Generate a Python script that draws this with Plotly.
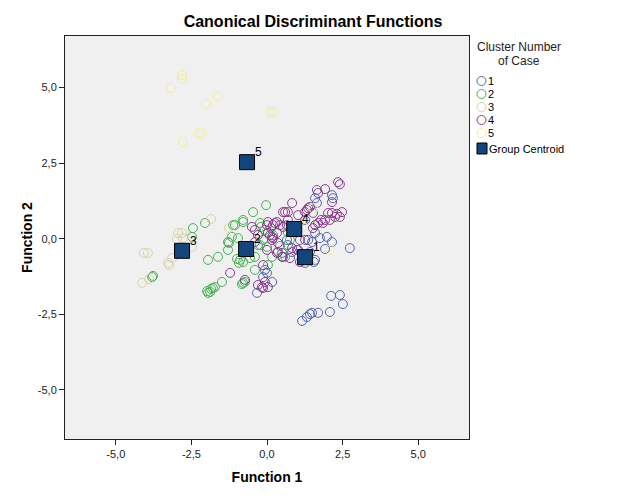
import plotly.graph_objects as go

# ---------------- data (Function 1, Function 2 scores) ----------------
c1_x = [2.12, 2.41, 2.51, 2.08, 1.69, 1.49, 1.42, 1.32, 1.16, 0.00, -0.13, 0.17, -0.33,
        1.55, 1.26, 2.74, 1.92, 2.15, 1.98, 1.59, 1.36, 1.49, 1.59, 1.32, 1.65, 1.59,
        2.18, 2.15, 1.26, 1.52, 0.69, 0.83, 0.53, 0.66, 1.75, 1.09, 1.42, 0.50, -0.07, 1.65]
c1_y = [-1.89, -1.86, -2.16, -2.42, -2.45, -2.45, -2.49, -2.59, -2.72, -1.13, -1.27, -1.43, -1.79,
        -0.77, -0.80, -0.31, -0.34, -0.11, 0.06, 0.19, -0.04, -0.11, -0.70, -0.64, 1.18, 1.34,
        1.34, 1.44, 0.62, 0.85, -0.21, -0.44, -0.60, -0.04, 0.02, -0.04, -0.44, -0.47, -1.03, 1.61]

c2_x = [-2.45, -2.05, -2.48, -1.95, -1.62, -1.29, -1.26, -1.16, -1.12, -1.49, -1.72, -1.85, -1.95,
        -3.77, -3.80, -0.46, -0.03, -0.79, -0.79, -1.06, -0.96, -0.99, -0.93, -0.56, -0.40, -0.79,
        -0.73, -1.88, -0.40, 0.03, -0.23, -0.07, 0.13, -0.13, 0.00, -0.23, 0.17, 0.60, 0.76, -1.29,
        -0.89, -0.30, -0.83, -0.20, 0.20, -1.79, -1.98, -0.79, 0.43, 0.69]
c2_y = [0.35, 0.52, 0.06, -0.70, -0.60, -0.37, -0.14, 0.06, 0.45, -1.43, -1.60, -1.66, -1.79,
        -1.23, -1.27, 0.88, 1.11, 0.62, 0.55, 0.45, 0.02, -0.67, -0.80, -0.64, -0.60, -1.46,
        -1.43, -1.76, -1.03, -0.87, 0.52, 0.29, 0.35, -0.04, -0.27, -0.21, -0.60, -0.60, -0.04, -0.11,
        -0.70, -0.21, -1.50, 0.39, 0.12, -1.63, -1.73, -0.77, -0.24, 0.22]

c3_x = [-4.07, -3.94, -2.94, -2.81, -2.98, -2.78, -2.48, -3.14, -3.27, -3.24, -4.13, -3.90, -1.85, -1.26]
c3_y = [-0.47, -0.47, 0.19, 0.19, -0.01, 0.02, -0.27, -0.64, -0.80, -0.87, -1.46, -1.33, 0.65, 0.35]

c4_x = [2.35, 2.41, 1.92, 1.69, 2.15, 2.48, 2.41, 2.31, 2.25, 2.02, 1.92, 1.79, 1.85, 1.69, 1.59,
        1.52, 1.26, 1.32, 1.36, 1.42, 1.03, 0.83, 0.69, 0.83, 1.03, 1.26, 1.09, 0.76, 0.53, 0.33,
        0.03, 0.00, 0.20, 0.43, 0.53, 0.66, -0.40, 0.10, 0.20, 0.17, 0.33, 0.03, 0.00, 0.36, 0.50,
        0.99, 2.08, 2.15, -1.22, -0.73, -0.13, -0.17, -0.07, 0.03, -0.50, -0.40, -0.30, 0.26, 0.17,
        0.36, 0.69, 0.60, 0.33, -0.30, -0.13]
c4_y = [1.87, 1.80, 1.64, 1.51, 1.21, 0.88, 0.72, 0.82, 0.72, 0.85, 0.62, 0.62, 0.52, 0.52, 0.45,
        0.35, 0.88, 0.95, 1.01, 1.05, 0.78, 1.18, 0.88, -0.31, -0.37, -0.04, -0.77, -0.64, 0.88, 0.55,
        0.55, 0.45, 0.45, 0.45, 0.39, 0.45, 0.29, 0.12, 0.02, -0.04, 0.19, 0.19, -0.37, -0.44, -0.60,
        -0.37, 0.62, 0.85, -1.13, -1.36, -0.87, -1.60, -1.43, -1.60, 0.39, -0.11, 0.12, 0.52, 0.06,
        -0.14, 0.62, 0.88, -0.47, -1.53, -1.63]

c5_x = [-2.81, -2.81, -3.17, -2.02, -1.65, -2.25, -2.15, -2.78, 0.20, 0.10, 1.52, 2.08, 1.19]
c5_y = [5.41, 5.28, 4.98, 4.45, 4.71, 3.49, 3.46, 3.19, 4.19, 4.19, 1.01, -0.37, 0.39]

centroid_labels = ["1", "2", "3", "4", "5"]
centroid_x = [1.26, -0.69, -2.81, 0.90, -0.66]
centroid_y = [-0.61, -0.34, -0.40, 0.32, 2.53]

x_ticks = [-5.0, -2.5, 0.0, 2.5, 5.0]
x_tick_text = ["-5,0", "-2,5", "0,0", "2,5", "5,0"]
y_ticks = [-5.0, -2.5, 0.0, 2.5, 5.0]
y_tick_text = ["-5,0", "-2,5", "0,0", "2,5", "5,0"]

clusters = [
    ("1", c1_x, c1_y, "#5565AE"),
    ("2", c2_x, c2_y, "#45B252"),
    ("3", c3_x, c3_y, "#DAD3A8"),
    ("4", c4_x, c4_y, "#8C3A91"),
    ("5", c5_x, c5_y, "#F4EE98"),
]
centroid_color = "#13457C"

# ---------------- layout geometry ----------------
W, H = 626, 501
L, R, T, B = 65, 469, 36, 439
FONT = "Liberation Sans, Arial, sans-serif"


def px_x(p):
    return (p - L) / (R - L)


def px_y(p):
    return (B - p) / (B - T)


fig = go.Figure()

for name, xs, ys, col in clusters:
    fig.add_trace(go.Scatter(
        x=xs, y=ys, mode="markers", name=name, showlegend=False,
        marker=dict(symbol="circle-open", size=9, color=col, line=dict(width=1, color=col)),
    ))

fig.add_trace(go.Scatter(
    x=centroid_x, y=centroid_y, mode="markers", name="Group Centroid", showlegend=False,
    marker=dict(symbol="square", size=15, color=centroid_color, line=dict(width=1, color="black")),
))

annotations = []
for lab, cx, cy in zip(centroid_labels, centroid_x, centroid_y):
    annotations.append(dict(x=cx, y=cy, xref="x", yref="y", text=lab, showarrow=False,
                            xanchor="left", yanchor="middle", xshift=6, yshift=10,
                            font=dict(family=FONT, size=12, color="black")))

# manual legend
annotations.append(dict(x=px_x(519), y=px_y(47), xref="paper", yref="paper",
                        text="Cluster Number", showarrow=False, xanchor="center", yanchor="middle",
                        font=dict(family=FONT, size=12, color="#222")))
annotations.append(dict(x=px_x(519), y=px_y(61), xref="paper", yref="paper",
                        text="of Case", showarrow=False, xanchor="center", yanchor="middle",
                        font=dict(family=FONT, size=12, color="#222")))

shapes = []
item_y = [81, 94, 107, 120, 133]
for (name, xs, ys, col), iy in zip(clusters, item_y):
    shapes.append(dict(type="circle", xref="paper", yref="paper",
                       x0=px_x(477), x1=px_x(486), y0=px_y(iy + 4.5), y1=px_y(iy - 4.5),
                       line=dict(color=col, width=1), fillcolor="rgba(0,0,0,0)"))
    annotations.append(dict(x=px_x(486), y=px_y(iy), xref="paper", yref="paper", text=name,
                            showarrow=False, xanchor="left", yanchor="middle",
                            font=dict(family=FONT, size=11, color="black")))

shapes.append(dict(type="rect", xref="paper", yref="paper",
                   x0=px_x(477), x1=px_x(487), y0=px_y(154), y1=px_y(143),
                   fillcolor=centroid_color, line=dict(color="black", width=1)))
annotations.append(dict(x=px_x(487), y=px_y(148.5), xref="paper", yref="paper", text="Group Centroid",
                        showarrow=False, xanchor="left", yanchor="middle",
                        font=dict(family=FONT, size=11, color="black")))

axis_common = dict(showgrid=False, zeroline=False, showline=True, linecolor="#222", linewidth=1,
                   mirror=True, ticks="outside", ticklen=5, tickcolor="#222",
                   tickfont=dict(family=FONT, size=11, color="#222"))

fig.update_layout(
    width=W, height=H,
    margin=dict(l=L, r=W - R, t=T, b=H - B),
    paper_bgcolor="white", plot_bgcolor="#F0F0F0",
    title=dict(text="<b>Canonical Discriminant Functions</b>", x=0.5, xref="container",
               y=1 - 21 / H, yref="container", xanchor="center", yanchor="middle",
               font=dict(family=FONT, size=16, color="black")),
    xaxis=dict(range=[-6.68, 6.68], tickvals=x_ticks, ticktext=x_tick_text,
               title=dict(text="<b>Function 1</b>", standoff=12,
                          font=dict(family=FONT, size=14, color="black")),
               **axis_common),
    yaxis=dict(range=[-6.62, 6.70], tickvals=y_ticks, ticktext=y_tick_text,
               title=dict(text="<b>Function 2</b>", standoff=1,
                          font=dict(family=FONT, size=14, color="black")),
               **axis_common),
    annotations=annotations, shapes=shapes, showlegend=False,
)

fig.write_html("out.html")
